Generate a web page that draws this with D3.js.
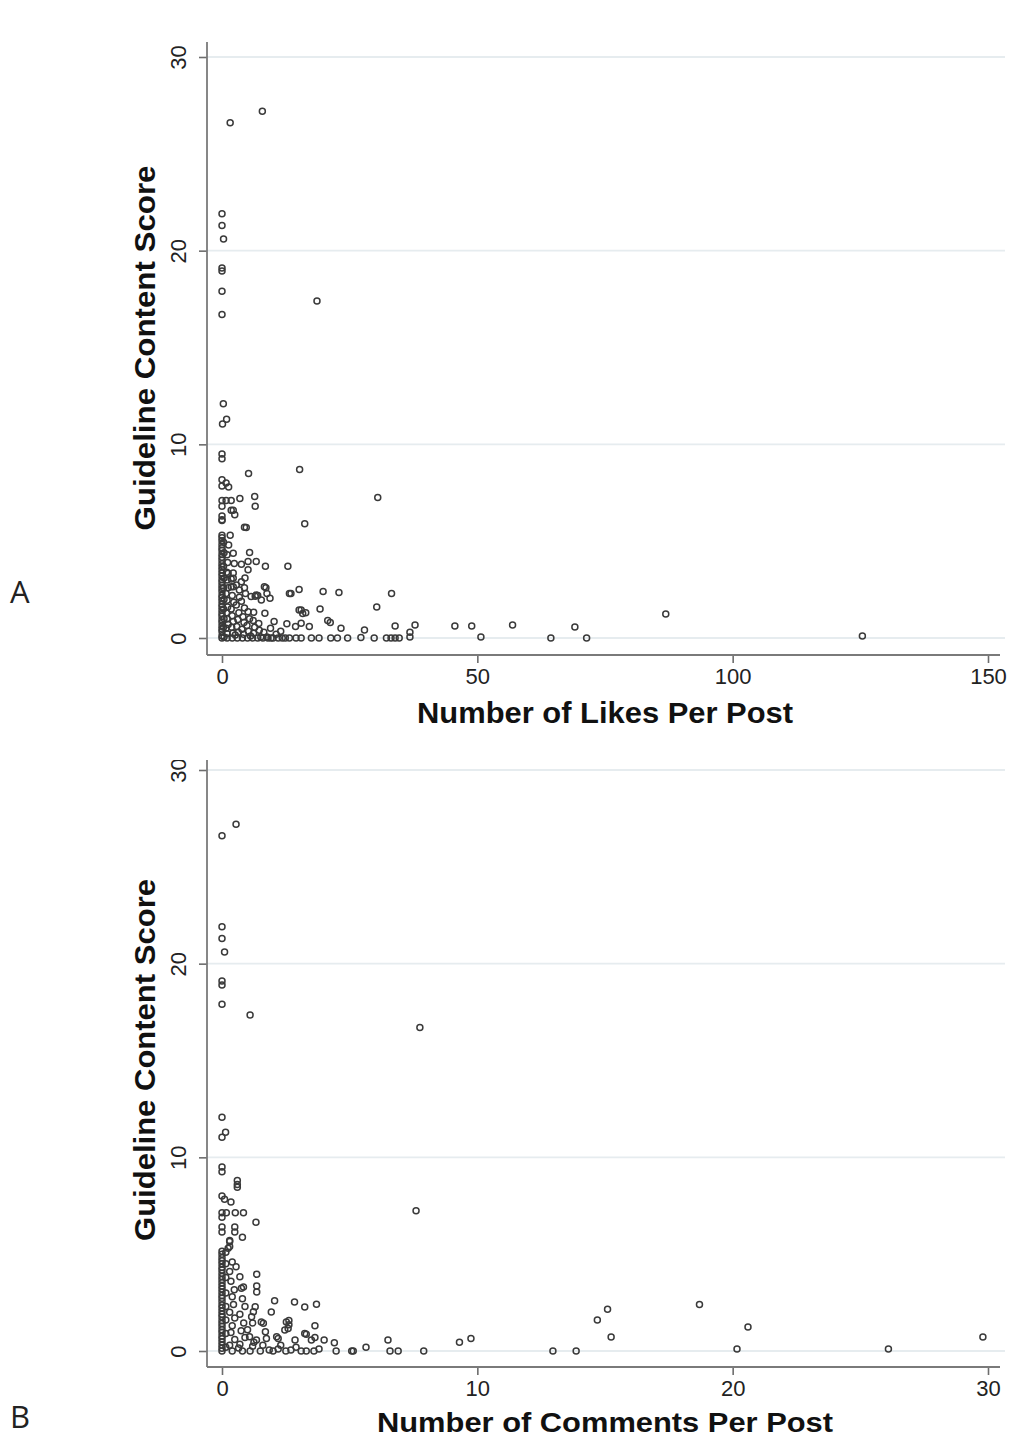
<!DOCTYPE html>
<html>
<head>
<meta charset="utf-8">
<script src="https://cdn.jsdelivr.net/npm/d3@7"></script>
<style>
  html, body { margin: 0; padding: 0; background: #fff; }
  svg { display: block; }
</style>
</head>
<body>
<svg id="chart" width="1010" height="1438"></svg>
<script>
// ---------------- DATA ----------------
const yTicks = [0, 10, 20, 30];
const likesTicks = [0, 50, 100, 150];
const commentsTicks = [0, 10, 20, 30];
const yTitle = "Guideline Content Score";
const likesTitle = "Number of Likes Per Post";
const commentsTitle = "Number of Comments Per Post";
const panelLabels = ["A", "B"];

// Panel A: [likes per post, guideline content score]
const likesPoints = [
  [1.6,26.6],[7.9,27.2],[0,21.9],[0,21.3],[0.3,20.6],[0,19.1],[0,18.95],[0,17.9],[0,16.7],[18.6,17.4],
  [0.26,12.1],[0.9,11.3],[0.1,11.05],[0,9.5],[0,9.25],[5.2,8.5],[15.2,8.7],[0,8.17],[0.8,8.0],[1.3,7.8],
  [0,7.85],[0,7.1],[0.8,7.1],[1.8,7.1],[3.5,7.2],[6.4,7.3],[6.5,6.8],[30.5,7.25],[0,6.8],[1.8,6.6],
  [2.2,6.6],[2.5,6.36],[0,6.3],[0,6.1],[4.75,5.7],[16.2,5.9],[0,5.3],[1.6,5.3],[0,6.07],[4.4,5.72],
  // column near zero
  [0,0],[0,0.12],[0,0.33],[0,0.47],[0,0.62],[0,0.8],[0,0.94],[0,1.12],[0,1.27],[0,1.43],[0,1.6],[0,1.74],
  [0,1.92],[0,2.08],[0,2.21],[0,2.4],[0,2.55],[0,2.71],[0,2.88],[0,3.02],[0,3.2],[0,3.35],[0,3.52],[0,3.68],
  [0,3.84],[0,4.02],[0,4.17],[0,4.33],[0,4.52],[0,4.66],[0,4.83],[0,5.02],[0,5.17],
  [0.4,0.05],[0.3,0.55],[0.4,1.0],[0.3,1.5],[0.4,2.0],[0.3,2.6],[0.4,3.1],[0.3,3.7],[0.4,4.4],[0.3,4.95],
  [1,0],[1,0.22],[0.8,0.5],[1.2,0.7],[1,1.0],[0.9,1.3],[1.1,1.6],[1,1.95],[0.8,2.3],[1.2,2.6],[1,3.0],
  [0.9,3.4],[1.1,3.9],[1,4.3],[1.3,4.8],[1.2,3.34],
  [2,0],[2.1,0.25],[1.9,0.55],[2.2,0.85],[2,1.15],[1.8,1.5],[2.3,1.85],[2,2.2],[2.2,2.65],[1.8,3.05],
  [2.2,3.35],[2.4,3.85],[2.2,4.38],[2.2,3.08],[1.8,2.65],
  [3,0],[3.2,0.3],[2.9,0.6],[3.1,0.95],[3.3,1.3],[2.8,1.7],[3.4,2.1],[3.4,2.48],[2.8,2.74],[3.8,2.9],
  [3.8,3.81],[2.6,0.15],
  [4,0],[4.2,0.2],[3.9,0.45],[4.3,0.8],[4.1,1.1],[4.4,1.55],[3.8,1.9],[4.6,2.3],[4.4,2.6],[4.5,3.1],
  [5,0],[5.2,0.35],[4.9,0.65],[5.4,1.0],[5.1,1.35],[5.7,2.14],[5.1,3.52],[5.1,3.95],[5.4,4.41],[5.6,0.1],
  [6,0],[6.2,0.25],[6.4,0.55],[6.1,0.9],[6.2,1.33],[6.5,2.15],[6.7,2.22],[6.7,3.95],
  [7,0],[7.3,0.4],[7.2,0.75],[7,2.2],[7.7,1.96],[7.6,0.05],
  [8,0],[8.2,0.3],[8.4,1.28],[8.6,2.6],[8.8,2.3],[8.5,3.7],[8.3,2.65],[8.8,0.05],
  [9,0],[9.4,2.05],[9.5,0.5],[9.6,0],
  [10,0],[10.2,0.85],[10.6,0.2],[11,0],[11.5,0.35],[11.8,0],[12.4,0],[12.7,0.73],[12.9,3.7],
  [13.2,0],[13.5,2.3],[13.2,2.3],[14.5,0],[14.4,0.59],[15.5,0],[15.5,0.76],[15.5,1.45],[15.1,2.5],
  [15.1,1.44],[16.4,1.3],[15.8,1.27],[17.1,0.59],[17.5,0],[19,0],[19.2,1.5],[19.8,2.4],
  [20.7,0.9],[21.2,0.8],[21.3,0],[22.6,0],[22.9,2.35],[23.3,0.5],[24.6,0],[27.2,0.02],[27.9,0.41],
  [29.8,0],[30.3,1.6],[32.2,0],[33.1,0],[33.9,0],[34.7,0],[33.9,0.62],[33.2,2.3],
  [36.8,0.05],[36.8,0.3],[37.8,0.67],
  [45.6,0.62],[48.9,0.62],[50.7,0.05],[56.9,0.67],[64.4,0],[69.1,0.57],[71.4,0],[86.9,1.24],[125.4,0.1]
];

// Panel B: [comments per post, guideline content score]
const commentsPoints = [
  [0,26.6],[0.55,27.2],[0,21.9],[0,21.3],[0.1,20.6],[0,19.1],[0,18.9],[0,17.9],[1.1,17.35],[7.75,16.7],
  [0,12.07],[0.14,11.3],[0,11.04],[0,9.5],[0,9.25],[0.6,8.8],[0.6,8.6],[0.6,8.45],[0,8.0],[0.1,7.83],
  [0.35,7.7],[0,7.14],[0.17,7.14],[0.52,7.14],[0.84,7.14],[0.5,6.4],[1.33,6.65],[0.8,5.87],[0,6.4],[0,6.15],
  [0.3,5.7],[0.3,5.4],[7.6,7.24],[0.5,6.15],[0.24,5.3],[0,6.9],
  // column near zero
  [0,0],[0,0.14],[0,0.3],[0,0.46],[0,0.63],[0,0.78],[0,0.95],[0,1.1],[0,1.26],[0,1.42],[0,1.58],[0,1.75],
  [0,1.9],[0,2.07],[0,2.23],[0,2.38],[0,2.56],[0,2.72],[0,2.87],[0,3.04],[0,3.2],[0,3.36],[0,3.52],[0,3.69],
  [0,3.85],[0,4.01],[0,4.18],[0,4.33],[0,4.5],[0,4.66],[0,4.82],[0,5.0],[0,5.15],
  [0.15,0.2],[0.15,0.9],[0.15,1.6],[0.15,2.3],[0.15,3.0],[0.15,3.8],[0.15,4.5],[0.15,5.1],
  [0.4,0],[0.3,0.3],[0.5,0.6],[0.35,0.95],[0.4,1.3],[0.5,1.7],[0.3,2.0],[0.45,2.4],[0.4,2.8],[0.48,3.16],
  [0.35,3.6],[0.3,4.1],[0.4,4.6],[0.55,4.35],[0.3,5.65],
  [0.8,0],[0.7,0.35],[0.9,0.7],[0.75,1.05],[0.85,1.45],[0.7,1.9],[0.9,2.3],[0.8,2.7],[0.76,3.24],
  [0.7,3.84],[0.84,3.3],[0.65,0.15],
  [1.1,0],[1.2,0.25],[1.25,0.45],[1.08,0.73],[1.0,1.1],[1.2,1.45],[1.16,1.77],[1.23,2.03],[1.3,2.29],
  [1.36,3.05],[1.36,3.36],[1.36,3.96],
  [1.5,0],[1.6,0.3],[1.35,0.57],[1.74,0.65],[1.62,1.43],[1.54,1.5],[1.7,1.0],[1.85,0.05],
  [2.0,0],[2.2,0.1],[1.93,2.02],[2.06,2.6],[2.14,0.73],[2.2,0.65],[2.3,0.3],
  [2.5,0],[2.7,0.05],[2.46,1.08],[2.59,1.16],[2.62,1.35],[2.62,1.57],[2.52,1.5],[2.86,0.57],[2.84,2.53],[2.9,0.2],
  [3.1,0],[3.3,0],[3.24,0.91],[3.3,0.86],[3.24,2.27],[3.5,0.57],[3.64,0.7],[3.64,1.3],[3.7,2.41],[3.6,0],[3.8,0.1],
  [4.0,0.57],[4.4,0.43],[4.47,0],[5.08,0],[5.14,0],[5.64,0.19],[6.5,0.57],[6.58,0],[6.9,0],[7.9,0],
  [9.3,0.45],[9.75,0.65],
  [12.96,0],[13.87,0],[14.7,1.6],[15.1,2.16],[15.24,0.72],[18.7,2.4],[20.17,0.1],[20.6,1.24],[26.1,0.1],[29.8,0.72]
];

// ---------------- DRAW ----------------
const svg = d3.select("#chart");
const FONT = "'Liberation Sans', Arial, Helvetica, sans-serif";

function drawPanel(cfg) {
  const g = svg.append("g");
  if (cfg.clipTop != null) {
    const id = "clip" + cfg.label;
    svg.append("clipPath").attr("id", id).append("rect")
      .attr("x", 0).attr("y", cfg.clipTop).attr("width", 1010).attr("height", 1438 - cfg.clipTop);
    g.attr("clip-path", `url(#${id})`);
  }
  const x = d3.scaleLinear().domain(cfg.xDomain).range([222, 988]);
  const y = d3.scaleLinear().domain([0, 30]).range([cfg.y0, cfg.y0 - 581]);

  // gridlines
  g.append("g").selectAll("line").data(yTicks).join("line")
    .attr("x1", cfg.axisX).attr("x2", 1005)
    .attr("y1", d => y(d)).attr("y2", d => y(d))
    .attr("stroke", "#e6ecef").attr("stroke-width", 1.8);

  // y axis
  const ya = g.append("g").attr("transform", `translate(${cfg.axisX},0)`)
    .call(d3.axisLeft(y).tickValues(yTicks).tickSize(8).tickPadding(14).tickFormat(d3.format("d")));
  ya.select(".domain").remove();
  ya.selectAll(".tick line").attr("stroke", "#6d6d6d").attr("stroke-width", 1.6);
  ya.selectAll(".tick text")
    .attr("font-family", FONT).attr("font-size", 22).attr("fill", "#222")
    .attr("text-anchor", "middle").attr("x", null).attr("dy", null)
    .attr("transform", "translate(-29,0) rotate(-90)").attr("dominant-baseline", "central");
  g.append("line").attr("x1", cfg.axisX).attr("x2", cfg.axisX)
    .attr("y1", cfg.axisTop).attr("y2", cfg.axisY)
    .attr("stroke", "#7a7a7a").attr("stroke-width", 1.8);

  // x axis
  const xa = g.append("g").attr("transform", `translate(0,${cfg.axisY})`)
    .call(d3.axisBottom(x).tickValues(cfg.xTicks).tickSize(8).tickPadding(5).tickFormat(d3.format("d")));
  xa.select(".domain").remove();
  xa.selectAll(".tick line").attr("stroke", "#6d6d6d").attr("stroke-width", 1.6);
  xa.selectAll(".tick text")
    .attr("font-family", FONT).attr("font-size", 22).attr("fill", "#222");
  g.append("line").attr("x1", cfg.axisX).attr("x2", 1000)
    .attr("y1", cfg.axisY).attr("y2", cfg.axisY)
    .attr("stroke", "#7a7a7a").attr("stroke-width", 1.8);

  // titles
  g.append("text")
    .attr("transform", `translate(145,${cfg.yTitleY}) rotate(-90)`)
    .attr("text-anchor", "middle").attr("dominant-baseline", "central")
    .attr("font-family", FONT).attr("font-weight", "bold").attr("font-size", 29).attr("fill", "#111")
    .attr("textLength", cfg.yTitleLen).attr("lengthAdjust", "spacingAndGlyphs")
    .text(yTitle);
  g.append("text")
    .attr("x", 605).attr("y", cfg.xTitleY)
    .attr("text-anchor", "middle")
    .attr("font-family", FONT).attr("font-weight", "bold").attr("font-size", cfg.xTitleSize).attr("fill", "#111")
    .attr("textLength", cfg.xTitleLen).attr("lengthAdjust", "spacingAndGlyphs")
    .text(cfg.xTitle);

  // points
  g.append("g").selectAll("circle").data(cfg.points).join("circle")
    .attr("cx", d => x(d[0])).attr("cy", d => y(d[1])).attr("r", 3)
    .attr("fill", "none").attr("stroke", "#3a3a3a").attr("stroke-width", 1.5);

  // panel letter
  svg.append("text")
    .attr("x", 10).attr("y", cfg.letterY)
    .attr("font-family", "'Open Sans', 'DejaVu Sans', sans-serif").attr("font-size", 31).attr("fill", "#222")
    .text(cfg.label);
}

drawPanel({
  label: panelLabels[0], points: likesPoints, xDomain: [0, 150], xTicks: likesTicks, xTitle: likesTitle,
  xTitleLen: 376, yTitleLen: 365, xTitleSize: 29,
  y0: 638, axisX: 207, axisY: 655, axisTop: 42, yTitleY: 348, xTitleY: 723, letterY: 603, clipTop: null
});
drawPanel({
  label: panelLabels[1], points: commentsPoints, xDomain: [0, 30], xTicks: commentsTicks, xTitle: commentsTitle,
  xTitleLen: 456, yTitleLen: 362, xTitleSize: 27,
  y0: 1351, axisX: 207, axisY: 1367, axisTop: 760, yTitleY: 1060, xTitleY: 1432, letterY: 1428, clipTop: 760
});
</script>
</body>
</html>
